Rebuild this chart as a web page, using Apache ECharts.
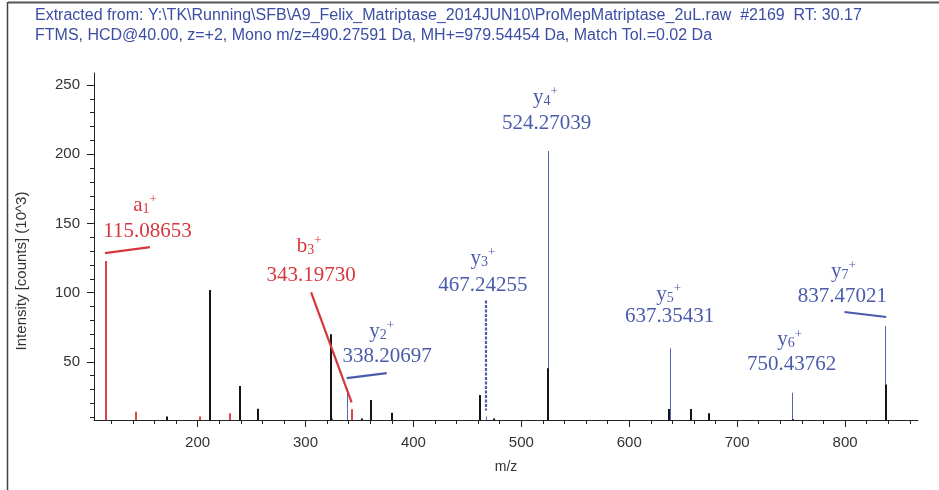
<!DOCTYPE html>
<html><head><meta charset="utf-8">
<script src="https://cdn.jsdelivr.net/npm/echarts@6/dist/echarts.min.js"></script>
<style>html,body{margin:0;padding:0;background:#fff}#c{width:939px;height:490px}</style>
</head><body><div id="c"></div>
<script>
// ---------- DATA ----------
const titleLines = [
  'Extracted from: Y:\\TK\\Running\\SFB\\A9_Felix_Matriptase_2014JUN10\\ProMepMatriptase_2uL.raw  #2169  RT: 30.17',
  'FTMS, HCD@40.00, z=+2, Mono m/z=490.27591 Da, MH+=979.54454 Da, Match Tol.=0.02 Da'
];
const xTickLabels = [200, 300, 400, 500, 600, 700, 800];
const yTickLabels = [50, 100, 150, 200, 250];
const xName = 'm/z';
const yName = 'Intensity [counts] (10^3)';

// unmatched peaks (black)
const blackMz  = [171.7, 211.8, 238.9, 256.2, 323.9, 352.3, 360.6, 380.0, 461.3, 474.6, 524.4, 637.2, 657.0, 674.3, 751.8, 837.6];
const blackInt = [10.6, 101.9, 32.5, 16.1, 70.0, 9.0, 22.4, 13.2, 26.0, 9.0, 45.3, 16.0, 16.0, 12.8, 8.6, 33.7];
// b/a-ion matched peaks (red)
const redMz  = [115.08653, 142.9, 202.5, 230.3, 324.6, 343.19730];
const redInt = [122.8, 14.0, 10.6, 12.8, 9.0, 15.7];
// y-ion matched peaks (blue)
const blueMz  = [338.20697, 467.24255, 524.27039, 637.35431, 750.43762, 837.47021];
const blueInt = [29.6, 10.5, 202.3, 59.8, 27.7, 75.9];

// annotations
const ionLetter = ['a', 'b', 'y', 'y', 'y', 'y', 'y', 'y'];
const ionIndex  = ['1', '3', '2', '3', '4', '5', '6', '7'];
const ionText   = ['115.08653', '343.19730', '338.20697', '467.24255', '524.27039', '637.35431', '750.43762', '837.47021'];
const ionMz     = [115.08653, 343.19730, 338.20697, 467.24255, 524.27039, 637.35431, 750.43762, 837.47021];
const ionInt    = [122.8, 15.7, 29.6, 10.5, 202.3, 59.8, 27.7, 75.9];
const ionKind   = ['red', 'red', 'blue', 'blue', 'blue', 'blue', 'blue', 'blue'];

// ---------- STYLE / LAYOUT ----------
const X_MIN = 104, X_MAX = 867.6, Y_MIN = 8, Y_MAX = 258.7;
const COLORS = { red: '#d6373d', blue: '#4a5bab', black: '#151515' };
const PEAK_COLORS = { red: '#d8454b', blue: '#5467b5' };
// offsets (px) relative to the peak top: ion label centre, number centre, leader line
const LAYOUT = [
  { ion: [39, -56], num: [41.5, -30], lead: [[-1, -8], [44, -14]], dash: false },
  { ion: [-43, -163], num: [-41, -134], lead: [[-41, -117], [-0.5, -7]], dash: false },
  { ion: [35, -59], num: [40.5, -33.5], lead: [[0, -12], [40, -17]], dash: false },
  { ion: [-3, -158], num: [-3, -131], lead: [[0, -116], [0, -6]], dash: true },
  { ion: [-2, -54], num: [-1, -27.5], lead: null },
  { ion: [-1, -54], num: [0, -32], lead: null },
  { ion: [-2, -53], num: [0, -28], lead: null },
  { ion: [-42, -55], num: [-43, -29.5], lead: [[-41, -14], [0.7, -9]], dash: false }
];
const SERIF = '"Liberation Serif", "Times New Roman", serif';
const SANS = '"Liberation Sans", Arial, sans-serif';

function pairs(xs, ys) { return xs.map((x, i) => [x, ys[i]]); }
const xMinor = []; for (let v = 120; v <= 860; v += 20) xMinor.push(v);
const yMinor = []; for (let v = 10; v <= 250; v += 10) yMinor.push(v);

function peakRenderer(color, width) {
  return function (params, api) {
    const x = api.value(0), v = api.value(1);
    const top = api.coord([x, v]);
    const base = api.coord([x, Y_MIN]);
    let px = Math.round(top[0]);
    if (width % 2 === 1) px += 0.5;
    return { type: 'line', shape: { x1: px, y1: top[1], x2: px, y2: base[1] },
             style: { stroke: color, lineWidth: width } };
  };
}

function annRenderer(params, api) {
  const i = params.dataIndex;
  const top = api.coord([api.value(0), api.value(1)]);
  const L = LAYOUT[i];
  const col = COLORS[ionKind[i]];
  const children = [];
  if (L.lead) {
    children.push({ type: 'line',
      shape: { x1: top[0] + L.lead[0][0], y1: top[1] + L.lead[0][1], x2: top[0] + L.lead[1][0], y2: top[1] + L.lead[1][1] },
      style: { stroke: col, lineWidth: 2.2, lineDash: L.dash ? [3, 1.5] : null } });
  }
  children.push({ type: 'text', x: top[0] + L.num[0], y: top[1] + L.num[1],
    style: { text: ionText[i], fill: col, font: '21px ' + SERIF, align: 'center', verticalAlign: 'middle' } });
  children.push({ type: 'text', x: top[0] + L.ion[0], y: top[1] + L.ion[1],
    style: { text: '{m|' + ionLetter[i] + '}{s|' + ionIndex[i] + '}{p|+}', fill: col, align: 'center', verticalAlign: 'middle',
      rich: {
        m: { fontSize: 21, fontFamily: SERIF, fill: col, lineHeight: 24 },
        s: { fontSize: 14, fontFamily: SERIF, fill: col, verticalAlign: 'bottom', lineHeight: 15, padding: [0, 0, 1, 0] },
        p: { fontSize: 13, fontFamily: SERIF, fill: col, verticalAlign: 'top', lineHeight: 14 }
      } } });
  return { type: 'group', children };
}

const chart = echarts.init(document.getElementById('c'), null, { renderer: 'canvas' });
const axisCol = '#222';
chart.setOption({
  animation: false,
  backgroundColor: '#fff',
  grid: { left: 94, right: 21, top: 73, bottom: 70, containLabel: false },
  xAxis: [
    { type: 'value', min: X_MIN, max: X_MAX, position: 'bottom',
      axisLine: { show: true, onZero: false, lineStyle: { color: axisCol, width: 1 } },
      axisTick: { show: true, customValues: xTickLabels, length: 7, lineStyle: { color: axisCol } },
      axisLabel: { customValues: xTickLabels, margin: 15, color: '#333', fontFamily: SANS, fontSize: 15 },
      splitLine: { show: false },
      name: xName, nameLocation: 'middle', nameGap: 40, nameTextStyle: { color: '#333', fontFamily: SANS, fontSize: 14 } },
    { type: 'value', min: X_MIN, max: X_MAX, position: 'bottom',
      axisLine: { show: false, onZero: false },
      axisTick: { show: true, customValues: xMinor, length: 4, lineStyle: { color: axisCol } },
      axisLabel: { show: false }, splitLine: { show: false } }
  ],
  yAxis: [
    { type: 'value', min: Y_MIN, max: Y_MAX, position: 'left',
      axisLine: { show: true, onZero: false, lineStyle: { color: axisCol, width: 1 } },
      axisTick: { show: true, customValues: yTickLabels, length: 7, lineStyle: { color: axisCol } },
      axisLabel: { customValues: yTickLabels, margin: 14, color: '#333', fontFamily: SANS, fontSize: 15 },
      splitLine: { show: false } },
    { type: 'value', min: Y_MIN, max: Y_MAX, position: 'left', offset: 0,
      axisLine: { show: false, onZero: false },
      axisTick: { show: true, customValues: yMinor, length: 4, lineStyle: { color: axisCol } },
      axisLabel: { show: false }, splitLine: { show: false } }
  ],
  graphic: [
    { type: 'line', shape: { x1: 8, y1: 2.5, x2: 939, y2: 2.5 }, style: { stroke: '#555', lineWidth: 2 } },
    { type: 'line', shape: { x1: 7.5, y1: 2, x2: 7.5, y2: 490 }, style: { stroke: '#444', lineWidth: 1.5 } },
    { type: 'text', left: 35, top: 8, style: { text: titleLines[0], fill: '#3b4ea3', font: '16px ' + SANS } },
    { type: 'text', left: 35, top: 28, style: { text: titleLines[1], fill: '#3b4ea3', font: '16px ' + SANS } },
    { type: 'text', x: 22, y: 271, rotation: Math.PI / 2,
      style: { text: yName, fill: '#333', font: '15px ' + SANS, align: 'center', verticalAlign: 'middle' } }
  ],
  series: [
    { type: 'custom', xAxisIndex: 0, yAxisIndex: 0, clip: true, data: pairs(redMz, redInt), renderItem: peakRenderer(PEAK_COLORS.red, 2), z: 2 },
    { type: 'custom', xAxisIndex: 0, yAxisIndex: 0, clip: true, data: pairs(blueMz, blueInt), renderItem: peakRenderer(PEAK_COLORS.blue, 1), z: 2 },
    { type: 'custom', xAxisIndex: 0, yAxisIndex: 0, clip: true, data: pairs(blackMz, blackInt), renderItem: peakRenderer(COLORS.black, 2), z: 3 },
    { type: 'custom', xAxisIndex: 0, yAxisIndex: 0, clip: false, data: pairs(ionMz, ionInt), renderItem: annRenderer, z: 4 }
  ]
});
</script>
</body></html>
